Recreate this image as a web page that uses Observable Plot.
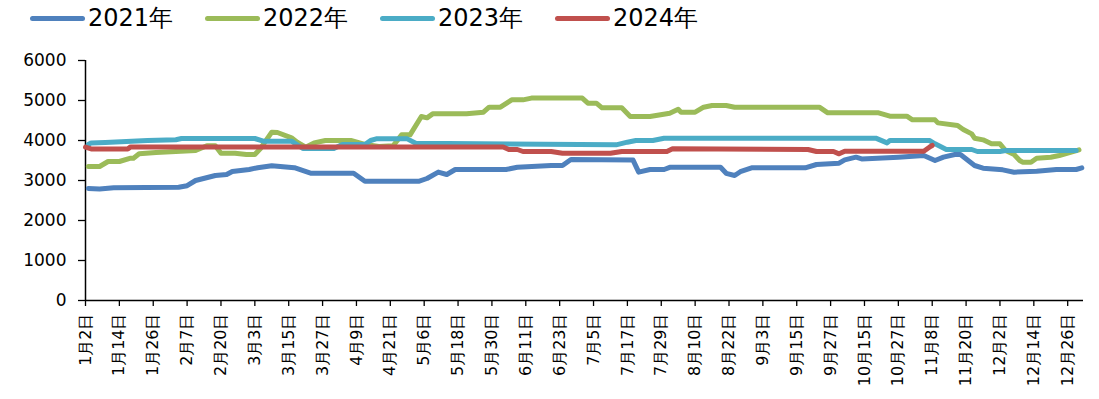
<!DOCTYPE html>
<html>
<head>
<meta charset="utf-8">
<script src="https://cdn.jsdelivr.net/npm/d3@7"></script>
<script src="https://cdn.jsdelivr.net/npm/@observablehq/plot@0.6"></script>
<style>
  html, body { margin: 0; padding: 0; background: #fff; }
  #wrap { position: relative; width: 1099px; height: 399px; font-family: "DejaVu Sans", sans-serif; }
  #legend { position: relative; height: 40px; }
  .item { position: absolute; top: 4px; display: flex; align-items: center; height: 28px; }
  .swatch { display: inline-block; width: 55px; height: 5px; border-radius: 3px; margin-right: 3px; }
  .lab { font-size: 24px; color: #000; line-height: 28px; }
</style>
</head>
<body>
<div id="wrap">
  <div id="legend"></div>
  <div id="chart"></div>
</div>
<script>
// ---- data ----
const years = ["2021年", "2022年", "2023年", "2024年"];
const colors = ["#4F81BD", "#9BBB59", "#4BACC6", "#C0504D"];
const tickLabels = ["1月2日","1月14日","1月26日","2月7日","2月20日","3月3日","3月15日","3月27日","4月9日","4月21日","5月6日","5月18日","5月30日","6月11日","6月23日","7月5日","7月17日","7月29日","8月10日","8月22日","9月3日","9月15日","9月27日","10月15日","10月27日","11月8日","11月20日","12月2日","12月14日","12月26日"];
const yTicks = [0, 1000, 2000, 3000, 4000, 5000, 6000];

// [day index, price]
const s2021 = [[1,2800],[5,2790],[10,2820],[33,2830],[36,2870],[39,3000],[46,3125],[50,3150],[52,3225],[58,3275],[61,3320],[66,3370],[69,3350],[74,3320],[80,3180],[95,3180],[99,2980],[118,2980],[121,3050],[125,3210],[128,3150],[131,3275],[149,3275],[153,3330],[165,3375],[169,3375],[172,3525],[194,3510],[196,3210],[200,3275],[205,3275],[207,3330],[225,3330],[227,3180],[230,3125],[232,3220],[236,3316],[255,3316],[259,3400],[267,3433],[269,3516],[273,3583],[275,3540],[288,3583],[297,3625],[301,3500],[304,3583],[308,3650],[310,3650],[315,3375],[318,3308],[325,3266],[329,3208],[337,3233],[344,3275],[351,3275],[353,3316]];
const s2022 = [[1,3350],[5,3350],[8,3475],[12,3475],[16,3558],[17,3558],[19,3667],[25,3700],[39,3750],[43,3870],[46,3870],[48,3683],[53,3683],[57,3650],[60,3650],[62,3800],[66,4208],[68,4200],[73,4066],[75,3958],[78,3833],[81,3941],[85,4000],[94,4000],[99,3900],[104,3850],[109,3870],[112,4141],[115,4141],[119,4600],[121,4566],[123,4666],[135,4666],[141,4708],[143,4833],[147,4833],[151,5016],[155,5016],[158,5060],[176,5060],[178,4933],[181,4933],[183,4816],[190,4816],[193,4600],[200,4600],[207,4683],[210,4780],[211,4708],[216,4708],[219,4833],[222,4875],[227,4875],[230,4833],[260,4833],[263,4691],[281,4691],[285,4608],[291,4608],[293,4516],[301,4516],[302,4441],[309,4375],[311,4275],[314,4166],[315,4058],[318,4016],[321,3916],[324,3916],[326,3750],[329,3650],[331,3500],[332,3458],[335,3458],[337,3558],[342,3583],[345,3625],[352,3766]];
const s2023 = [[1,3900],[2,3940],[7,3950],[22,4000],[32,4020],[34,4050],[60,4050],[63,3983],[73,3983],[77,3800],[88,3800],[91,3900],[99,3900],[101,4000],[103,4041],[114,4041],[117,3933],[175,3900],[188,3891],[192,3958],[195,4000],[201,4000],[205,4058],[280,4058],[284,3941],[285,4000],[299,4000],[301,3916],[305,3775],[314,3775],[316,3725],[324,3725],[326,3750],[351,3750]];
const s2024 = [[0,3833],[2,3790],[15,3790],[16,3840],[148,3840],[150,3775],[153,3775],[155,3725],[165,3725],[169,3683],[186,3683],[190,3725],[206,3725],[208,3791],[256,3775],[259,3725],[265,3725],[267,3666],[269,3733],[297,3733],[299,3833],[300,3875]];

// ---- build ----
const seriesList = [s2021, s2022, s2023, s2024];
const rows = [];
seriesList.forEach((s, k) => s.forEach(([i, v]) => rows.push({year: years[k], i, v})));
const tickIdx = tickLabels.map((_, k) => k * 12);

// legend
const legend = document.getElementById("legend");
const lefts = [30, 205, 380, 555];
years.forEach((y, k) => {
  const it = document.createElement("div");
  it.className = "item";
  it.style.left = lefts[k] + "px";
  const sw = document.createElement("span");
  sw.className = "swatch";
  sw.style.background = colors[k];
  const lb = document.createElement("span");
  lb.className = "lab";
  lb.textContent = y;
  it.appendChild(sw); it.appendChild(lb);
  legend.appendChild(it);
});

const chart = Plot.plot({
  width: 1099,
  height: 359,
  marginTop: 20,
  marginBottom: 99,
  marginLeft: 85,
  marginRight: 16,
  style: {fontFamily: "DejaVu Sans, sans-serif", background: "#fff", color: "#000"},
  x: {domain: [0, 353.6], axis: null},
  y: {domain: [0, 6000], axis: null},
  color: {domain: years, range: colors},
  marks: [
    Plot.axisY({ticks: yTicks, tickSize: 7, tickPadding: 12, fontSize: 17, label: null, tickFormat: d => String(d), stroke: "#000", strokeWidth: 1.3}),
    Plot.axisX({ticks: tickIdx, tickFormat: d => tickLabels[Math.round(d / 12)], tickRotate: -90, tickSize: 6, tickPadding: 7, fontSize: 16, label: null, stroke: "#000", strokeWidth: 1.3}),
    Plot.ruleX([0], {y1: 0, y2: 6000, stroke: "#000", strokeWidth: 1.5}),
    Plot.ruleY([0], {stroke: "#000", strokeWidth: 1.5}),
    Plot.line(rows, {x: "i", y: "v", z: "year", stroke: "year", strokeWidth: 5, strokeLinecap: "round", strokeLinejoin: "round"})
  ]
});
document.getElementById("chart").appendChild(chart);
</script>
</body>
</html>
